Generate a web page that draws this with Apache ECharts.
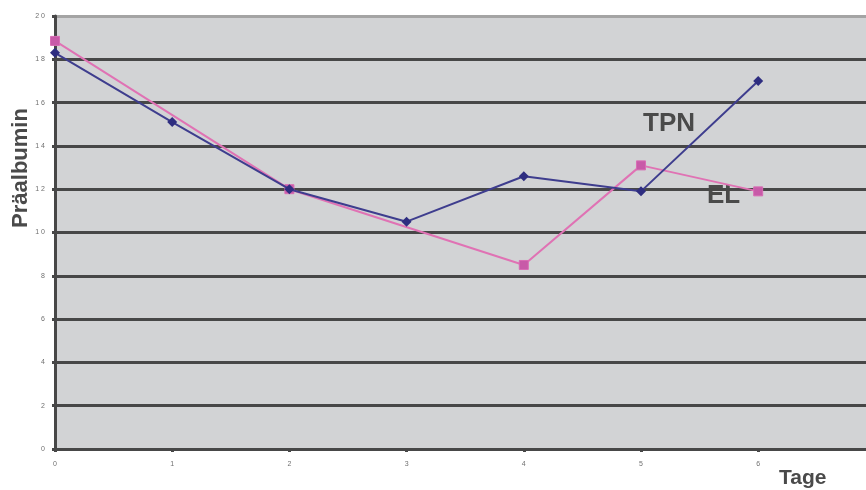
<!DOCTYPE html>
<html><head><meta charset="utf-8">
<script src="https://cdn.jsdelivr.net/npm/echarts@6/dist/echarts.min.js"></script>
<style>html,body{margin:0;padding:0;background:#fff}#c{width:866px;height:490px}</style>
</head><body><div id="c"></div>
<script>
var days = [0, 1, 2, 3, 4, 5, 6];
var tpn = [18.3, 15.1, 12.0, 10.5, 12.6, 11.9, 17.0];
var el = [18.85, null, 12.0, null, 8.5, 13.1, 11.9];
var yTicks = [0, 2, 4, 6, 8, 10, 12, 14, 16, 18, 20];

function pairs(arr){ return days.map(function(d,i){ return [d, arr[i]]; }).filter(function(p){ return p[1] !== null; }); }

var chart = echarts.init(document.getElementById('c'));
var splitColors = yTicks.map(function(v){ return v === 20 ? '#a4a4a4' : '#474747'; });
chart.setOption({
  animation: false,
  grid: { left: 55, right: 0, top: 16, bottom: 41, show: true, backgroundColor: '#d2d3d5', borderWidth: 0 },
  xAxis: {
    type: 'value', min: 0, max: 6.92, interval: 1,
    axisLine: { show: true, lineStyle: { color: '#474747', width: 3 } },
    axisTick: { show: true, length: 3, lineStyle: { color: '#474747', width: 3 } },
    axisLabel: { showMaxLabel: false, fontSize: 7, color: '#707070', fontFamily: 'Liberation Sans', margin: 12,
      formatter: function(v){ return days.indexOf(v) >= 0 ? String(v) : ''; } },
    splitLine: { show: false }
  },
  yAxis: {
    type: 'value', min: 0, max: 20, interval: 2,
    axisLine: { show: true, lineStyle: { color: '#474747', width: 3 } },
    axisTick: { show: true, length: 3, lineStyle: { color: '#474747', width: 3 } },
    axisLabel: { fontSize: 7, color: '#707070', fontFamily: 'Liberation Sans', margin: 10,
      formatter: function(v){ return String(v).split('').join(' '); } },
    splitLine: { show: true, lineStyle: { color: splitColors, width: 3 } }
  },
  series: [
    { name: 'EL', type: 'line', data: pairs(el), symbol: 'rect', symbolSize: 9,
      lineStyle: { color: '#e072b4', width: 2 }, itemStyle: { color: '#c85aa8', borderColor: '#d86cb4', borderWidth: 1 }, z: 3 },
    { name: 'TPN', type: 'line', data: pairs(tpn), symbol: 'diamond', symbolSize: 10,
      lineStyle: { color: '#3e3d8e', width: 2 }, itemStyle: { color: '#2e2d80' }, z: 4 }
  ],
  graphic: [
    { type: 'text', left: 643, top: 111, style: { text: 'TPN', font: 'bold 26px "Liberation Sans", Arial', fill: '#4a4a4a' } },
    { type: 'text', left: 707, top: 183, style: { text: 'EL', font: 'bold 26px "Liberation Sans", Arial', fill: '#4a4a4a' } },
    { type: 'text', left: 779, top: 468, style: { text: 'Tage', font: 'bold 21px "Liberation Sans", Arial', fill: '#4a4a4a' } },
    { type: 'text', x: 21, y: 168, rotation: Math.PI/2, style: { text: 'Präalbumin', font: 'bold 22px "Liberation Sans", Arial', fill: '#4a4a4a', align: 'center', verticalAlign: 'middle' } }
  ]
});
</script></body></html>
